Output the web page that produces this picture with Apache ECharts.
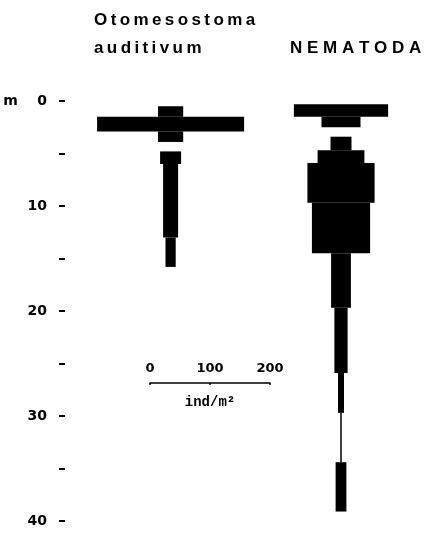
<!DOCTYPE html>
<html>
<head>
<meta charset="utf-8">
<script src="https://cdn.jsdelivr.net/npm/echarts@6/dist/echarts.min.js"></script>
<style>
html,body{margin:0;padding:0;background:#fff;}
#chart{width:425px;height:535px;}
</style>
</head>
<body>
<div id="chart"></div>
<script>
// ---- data (depth in m, density in ind/m2) ----
const otoTop    = [0.5, 1.5, 2.9, 4.8, 6.0, 13.0];
const otoBottom = [1.5, 2.9, 3.9, 6.0, 13.0, 15.8];
const otoValues = [42, 245, 42, 35, 25, 17];

const nemTop    = [0.3, 1.5, 3.4, 4.7, 5.9, 9.7, 14.5, 19.7, 25.9, 29.7, 34.4];
const nemBottom = [1.5, 2.5, 4.7, 5.9, 9.7, 14.5, 19.7, 25.9, 29.7, 34.4, 39.1];
const nemValues = [157, 65, 35, 78, 112, 97, 33, 22, 10, 2.5, 18];

const depthTicks = [0, 10, 20, 30, 40];
const scaleTicks = [0, 100, 200];
const TS = '\u2009';
const speciesTitles = [
  'Otomesostoma'.split('').join(TS),
  'auditivum'.split('').join(TS),
  'N E M A T O D A'
];

// ---- layout ----
const OTO_CENTER = 176;   // x-axis units
const NEM_CENTER = 460;

function build(center, tops, bottoms, vals) {
  return vals.map((v, i) => [center, tops[i], bottoms[i], v]);
}

function renderKite(params, api) {
  const c = api.value(0), t = api.value(1), b = api.value(2), v = api.value(3);
  const p1 = api.coord([c - v / 2, t]);
  const p2 = api.coord([c + v / 2, b]);
  return {
    type: 'rect',
    shape: { x: p1[0], y: p1[1], width: Math.max(p2[0] - p1[0], 1.2), height: p2[1] - p1[1] },
    style: { fill: '#000' }
  };
}

const font = 'DejaVu Sans';
const tfont = 'bold 17px "Liberation Sans"';
const chart = echarts.init(document.getElementById('chart'));
chart.setOption({
  animation: false,
  backgroundColor: '#fff',
  grid: [
    { left: 65, right: 0, top: 101, bottom: 14, outerBoundsMode: 'none', containLabel: false },
    { left: 150, width: 120, top: 382, height: 1, outerBoundsMode: 'none', containLabel: false }
  ],
  xAxis: [
    { gridIndex: 0, type: 'value', min: 0, max: 600, show: false },
    {
      gridIndex: 1, type: 'value', min: 0, max: 200, interval: 100, position: 'bottom',
      axisLine: { show: true, lineStyle: { color: '#000', width: 1.5 } },
      axisTick: { show: true, length: 2, lineStyle: { color: '#000', width: 1.5 } },
      splitLine: { show: false },
      axisLabel: {
        inside: true, margin: 8, color: '#000', fontFamily: font, fontWeight: 'bold', fontSize: 13,
        formatter: v => scaleTicks.includes(v) ? String(v) : ''
      },
      name: 'ind/m²', nameLocation: 'middle', nameGap: 12,
      nameTextStyle: { color: '#000', fontFamily: 'Liberation Mono', fontWeight: 'bold', fontSize: 14, verticalAlign: 'top' }
    }
  ],
  yAxis: [
    {
      gridIndex: 0, type: 'value', inverse: true, min: 0, max: 40, interval: 5,
      axisLine: { show: false },
      axisTick: { show: true, length: 6, lineStyle: { color: '#000', width: 2 } },
      splitLine: { show: false },
      axisLabel: {
        margin: 18, color: '#000', fontFamily: font, fontWeight: 'bold', fontSize: 14,
        formatter: v => depthTicks.includes(v) ? (v === 0 ? 'm    0' : String(v)) : ''
      }
    },
    { gridIndex: 1, type: 'value', show: false, min: 0, max: 1 }
  ],
  graphic: [
    { type: 'text', left: 94, top: 12, style: { text: speciesTitles[0], fill: '#000', font: tfont } },
    { type: 'text', left: 94, top: 40, style: { text: speciesTitles[1], fill: '#000', font: tfont } },
    { type: 'text', left: 290, top: 40, style: { text: speciesTitles[2], fill: '#000', font: tfont } }
  ],
  series: [
    { type: 'custom', xAxisIndex: 0, yAxisIndex: 0, renderItem: renderKite, data: build(OTO_CENTER, otoTop, otoBottom, otoValues) },
    { type: 'custom', xAxisIndex: 0, yAxisIndex: 0, renderItem: renderKite, data: build(NEM_CENTER, nemTop, nemBottom, nemValues) }
  ]
});
</script>
</body>
</html>
